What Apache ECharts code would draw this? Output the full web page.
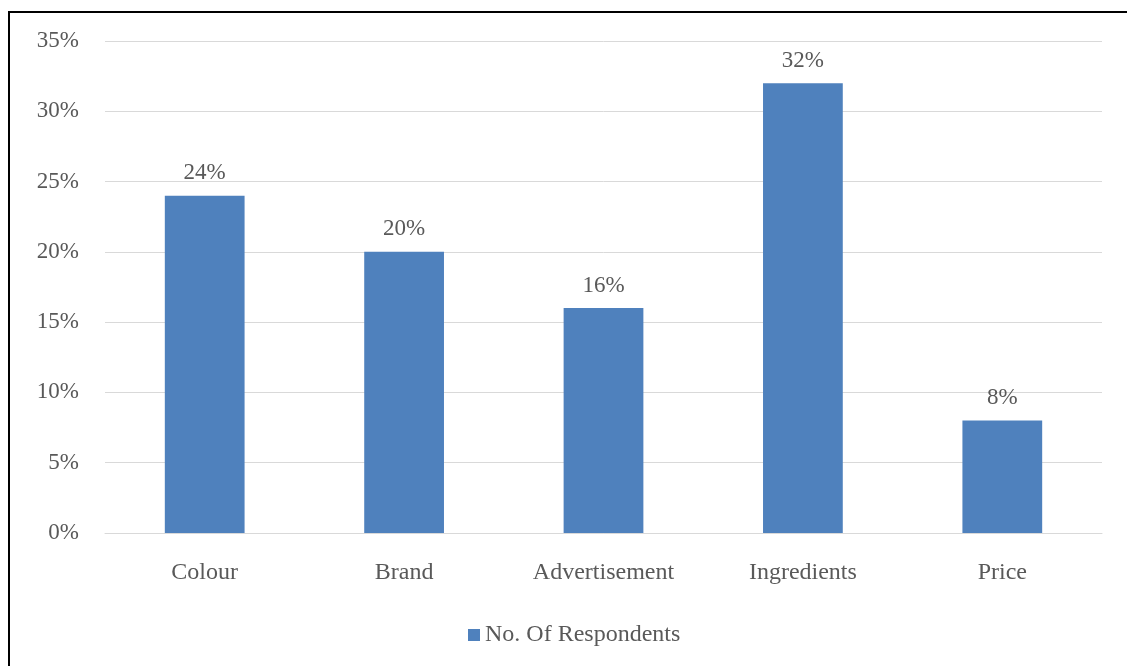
<!DOCTYPE html>
<html>
<head>
<meta charset="utf-8">
<script src="https://cdn.jsdelivr.net/npm/echarts@6/dist/echarts.min.js"></script>
<style>
  html, body { margin: 0; padding: 0; background: #fff; }
  #chart { width: 1127px; height: 666px; }
</style>
</head>
<body>
<div id="chart"></div>
<script>
// Survey: factors influencing purchase, share of respondents
const categories = ['Colour', 'Brand', 'Advertisement', 'Ingredients', 'Price'];
const respondents = [24, 20, 16, 32, 8];
const seriesName = 'No. Of Respondents';

const textColor = '#595959';
const fontFamily = '"Liberation Serif", "Times New Roman", serif';

const chart = echarts.init(document.getElementById('chart'));
chart.setOption({
  animation: false,
  backgroundColor: '#fff',
  textStyle: { fontFamily: fontFamily },
  graphic: [{
    type: 'rect',
    shape: { x: 9, y: 12, width: 1200, height: 700 },
    style: { fill: 'none', stroke: '#000', lineWidth: 2 },
    silent: true
  }],
  grid: { left: 105, right: 25, top: 41, bottom: 133 },
  legend: {
    bottom: 14,
    left: 463,
    itemWidth: 12,
    itemHeight: 12,
    itemGap: 6,
    icon: 'rect',
    textStyle: { color: textColor, fontSize: 24, fontFamily: fontFamily },
    data: [seriesName]
  },
  xAxis: {
    type: 'category',
    data: categories,
    axisLine: { lineStyle: { color: '#d9d9d9', width: 1 } },
    axisTick: { show: false },
    axisLabel: { color: textColor, fontSize: 24, margin: 28, fontFamily: fontFamily }
  },
  yAxis: {
    type: 'value',
    min: 0,
    max: 35,
    interval: 5,
    axisLine: { show: false },
    axisTick: { show: false },
    axisLabel: { color: textColor, fontSize: 23, margin: 26, formatter: '{value}%', fontFamily: fontFamily },
    splitLine: { lineStyle: { color: '#d9d9d9', width: 1 } }
  },
  series: [{
    name: seriesName,
    type: 'bar',
    data: respondents,
    barWidth: '40%',
    itemStyle: { color: '#4f81bd' },
    label: {
      show: true,
      position: 'top',
      distance: 11,
      color: textColor,
      fontSize: 23,
      fontFamily: fontFamily,
      formatter: '{c}%'
    }
  }]
});
</script>
</body>
</html>
